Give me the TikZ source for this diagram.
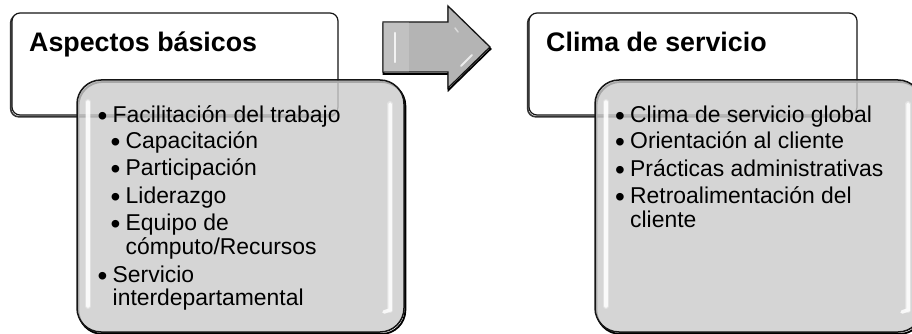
\documentclass[tikz,border=0pt]{standalone}
\usepackage{fontspec}
\setmainfont{Liberation Sans}
\usetikzlibrary{shadows}

\definecolor{boxgray}{HTML}{CCCCCC}
\definecolor{arrowgray}{HTML}{B4B4B4}
\definecolor{edge}{HTML}{151515}

\newcommand\itembullet{\makebox[15pt][l]{\raisebox{-3pt}{\fontsize{28}{28}\selectfont •}}}

\tikzset{
  headbox/.style={draw=edge, line width=1.2pt, fill=white, rounded corners=8pt,
    inner sep=0pt, outer sep=0pt, anchor=north west,
    general shadow={shadow xshift=-1.3pt, shadow yshift=-1.8pt, draw=black!80, line width=1.6pt}},
  detailbox/.style={draw=edge, line width=1.5pt, fill=boxgray, fill opacity=0.82,
    rounded corners=24pt, inner sep=0pt, outer sep=0pt, anchor=north west,
    general shadow={shadow xshift=1.4pt, shadow yshift=-2pt, draw=black, line width=1.8pt}},
  gloss/.style={draw=white, line width=3.5pt, line cap=round, opacity=0.85},
  softgloss/.style={draw=white, line width=6pt, line cap=round, opacity=0.3},
  titletext/.style={font=\fontsize{26.8}{30}\selectfont\bfseries, anchor=base west, inner sep=0pt},
  itemtext/.style={font=\fontsize{22.9}{24}\selectfont, anchor=base west, inner sep=0pt},
}

\begin{document}
\begin{tikzpicture}[x=1pt, y=-1pt]
  \useasboundingbox (0,0) rectangle (912,334);
  \clip (0,0) rectangle (912,334);

  % ---------- header cards ----------
  \node[headbox, minimum width=326pt, minimum height=102pt] (headL) at (12,13) {};
  \node[headbox, minimum width=328pt, minimum height=102pt] (headR) at (529,13) {};

  % ---------- detail cards ----------
  \node[detailbox, minimum width=327pt, minimum height=252pt] (cardL) at (77,80) {};
  \node[detailbox, minimum width=327pt, minimum height=252pt] (cardR) at (595,80) {};

  % glossy highlights along the inner edges
  \foreach \c in {cardL, cardR} {
    \path[softgloss] ([shift={(11,22)}]\c.north west) -- ([shift={(11,-26)}]\c.south west);
    \path[gloss] ([shift={(11,22)}]\c.north west) -- ([shift={(11,-26)}]\c.south west);
    \path[softgloss] ([shift={(-14,24)}]\c.north east) -- ([shift={(-14,-22)}]\c.south east);
    \path[gloss] ([shift={(-14,24)}]\c.north east) -- ([shift={(-14,-22)}]\c.south east)
      -- ([shift={(-20,-20)}]\c.south east);
  }

  % ---------- transition arrow ----------
  \coordinate (a1) at (383,22);
  \coordinate (a2) at (448,22);
  \coordinate (a3) at (448,6);
  \coordinate (a4) at (490,47);
  \coordinate (a5) at (448,88);
  \coordinate (a6) at (448,72);
  \coordinate (a7) at (383,72);
  \draw[black, line width=1.8pt, line join=miter]
    ([shift={(0.5,2)}]a1) -- ([shift={(0.5,2)}]a2) -- ([shift={(0.5,2)}]a3)
    -- ([shift={(0.5,2)}]a4) -- ([shift={(0.5,2)}]a5) -- ([shift={(0.5,2)}]a6)
    -- ([shift={(0.5,2)}]a7) -- cycle;
  \draw[edge, line width=1.3pt, fill=arrowgray, line join=miter]
    (a1) -- (a2) -- (a3) -- (a4) -- (a5) -- (a6) -- (a7) -- cycle;
  \fill[white, opacity=0.18] (a1) rectangle ([xshift=26]a7);
  \draw[white, line width=2.5pt, line cap=round, opacity=0.8] (395,33) -- (395,62);
  \draw[white, line width=2pt, line cap=round, opacity=0.75] (461,66) -- (472,55);
  \draw[white, line width=1.5pt, line cap=round, opacity=0.5] (455,28) -- (458,32);

  % ---------- titles ----------
  \node[titletext] (titleL) at (29,52) {Aspectos básicos};
  \node[titletext] (titleR) at (546,52) {Clima de servicio};

  % ---------- left list ----------
  \node[itemtext] (l1)  at (97.5,122)  {\itembullet Facilitación del trabajo};
  \node[itemtext] (l2)  at (110.5,148.5) {\itembullet Capacitación};
  \node[itemtext] (l3)  at (110.5,175.7) {\itembullet Participación};
  \node[itemtext] (l4)  at (110.5,203) {\itembullet Liderazgo};
  \node[itemtext] (l5)  at (110.5,230) {\itembullet Equipo de};
  \node[itemtext] (l5b) at (125.5,254.5) {cómputo/Recursos};
  \node[itemtext] (l6)  at (97.5,282)  {\itembullet Servicio};
  \node[itemtext] (l6b) at (112.5,305) {interdepartamental};

  % ---------- right list ----------
  \node[itemtext] (r1)  at (615,122)   {\itembullet Clima de servicio global};
  \node[itemtext] (r2)  at (615,148.5) {\itembullet Orientación al cliente};
  \node[itemtext] (r3)  at (615,176)   {\itembullet Prácticas administrativas};
  \node[itemtext] (r4)  at (615,203)   {\itembullet Retroalimentación del};
  \node[itemtext] (r4b) at (630,227) {cliente};
\end{tikzpicture}
\end{document}
